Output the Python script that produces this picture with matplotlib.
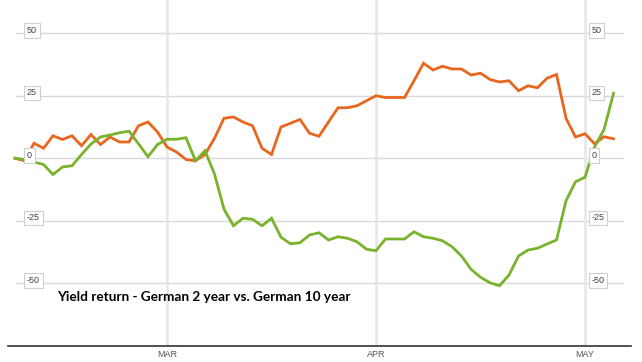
import numpy as np
import pandas as pd
import matplotlib
matplotlib.use('Agg')
import matplotlib.pyplot as plt

# daily yield change (bp) since start, trading days from 6 Feb 2015
dates = pd.bdate_range('2015-02-06', periods=64)

two_year = [0, -1, 6, 4, 9, 7.5, 9, 5, 9.5, 5.5, 8.5, 6.5, 6.5, 13, 14.5, 10.5,
            4.5, 2.5, -0.5, -1, 1.5, 8, 16, 16.5, 14.5, 13, 4, 1.5, 12.5, 14, 15.5, 10,
            8.8, 14.5, 20.2, 20.2, 21, 23, 25, 24.3, 24.3, 24.3, 31, 38, 35.3, 36.8, 35.7, 35.7,
            33.3, 34, 31.5, 30.5, 31, 27, 29, 28.2, 32, 33.5, 16, 8.5, 9.8, 5.8, 8.6, 7.8]

ten_year = [0, -0.5, -1.5, -2.5, -6.5, -3.5, -3, 1.5, 5.7, 8.5, 9.3, 10.2, 10.8, 5.8, 0.6, 5.5,
            7.6, 7.6, 8.2, -1, 3, -6.3, -20.4, -27, -24, -24.4, -27, -24, -31.6, -34.2, -33.8, -30.7,
            -29.8, -32.7, -31.4, -32, -33.4, -36.4, -37, -32.3, -32.3, -32.3, -29.4, -31.4, -32, -33, -35.4, -39.1,
            -44.4, -47.6, -49.8, -51, -46.7, -39.1, -36.7, -36, -34.3, -32.7, -17, -9.4, -7.6, 4.5, 11.5, 26]

y_ticks = [50, 25, 0, -25, -50]
title = 'Yield return - German 2 year vs. German 10 year'

x = np.arange(len(dates))
months = dates.month
month_pos = [i for i in range(1, len(dates)) if months[i] != months[i - 1]]
month_lbl = [dates[i].strftime('%b').upper() for i in month_pos]

fig = plt.figure(figsize=(6.42, 3.62), dpi=100)
ax = fig.add_axes([8 / 642, 16 / 362, 623 / 642, 346 / 362])
ax.set_xlim(-0.737, 64.84)
ax.set_ylim(-75.1, 63.3)

for s in ['top', 'right', 'left']:
    ax.spines[s].set_visible(False)
ax.spines['bottom'].set_color('#333333')
ax.spines['bottom'].set_linewidth(1.2)

for v in y_ticks:
    ax.axhline(v, xmin=0.013, xmax=0.987, color='#d9d9d9', lw=1.0, zorder=1)
for p in month_pos:
    ax.axvline(p, color='#e6e6e6', lw=1.8, zorder=1)

ax.plot(x, two_year, color='#e8661d', lw=2.0, zorder=3, solid_joinstyle='miter')
ax.plot(x, ten_year, color='#79b32c', lw=2.0, zorder=3, solid_joinstyle='miter')

box = dict(boxstyle='square,pad=0.3', fc='white', ec='#cfcfcf', lw=0.8)
for v in y_ticks:
    for xp in [27 / 642, 591.5 / 642]:
        ax.annotate(str(v), xy=(xp, v), xycoords=('figure fraction', 'data'),
                    xytext=(0, 2), textcoords='offset points',
                    ha='left', va='center', fontsize=6.5, color='#444444',
                    family='Liberation Sans', bbox=box, zorder=5)

ax.set_yticks([])
ax.set_xticks(month_pos)
ax.set_xticklabels(month_lbl, fontsize=6.5, color='#555555', family='Liberation Sans')
ax.tick_params(axis='x', length=0, pad=3)

fig.text(57 / 642, 1 - 297 / 362, title, ha='left', va='center',
         fontsize=9.8, fontweight='bold', family='Lato', color='#000000')

fig.savefig('out.png', dpi=100)
